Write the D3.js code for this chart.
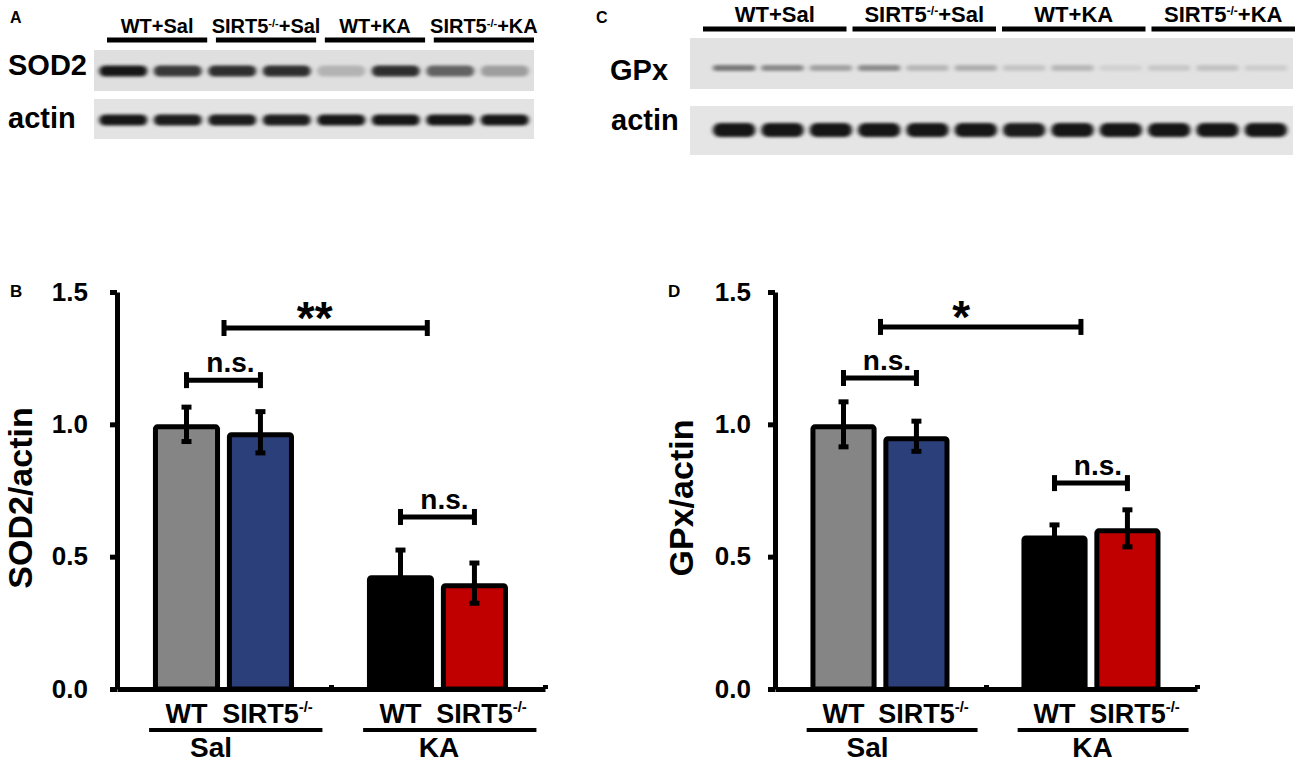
<!DOCTYPE html>
<html><head><meta charset="utf-8">
<script src="https://cdn.jsdelivr.net/npm/d3@7"></script>
<style>
body{margin:0;background:#fff}
svg{display:block}
text{font-family:"Liberation Sans",Arial,Helvetica,sans-serif;font-weight:bold;fill:#000}
</style>
</head><body>
<svg id="c" width="1300" height="763"></svg>
<script>
// ---------------- data ----------------
const groups = ["Sal", "KA"];
const genotypes = ["WT", "SIRT5"];
const barKeys = ["Sal-WT", "Sal-SIRT5", "KA-WT", "KA-SIRT5"];
const barColors = ["#858585", "#2b3f7a", "#000000", "#c00000"];

const sodMeans  = [1.00, 0.97, 0.43, 0.40];
const sodErrors = [0.065, 0.078, 0.095, 0.076];
const gpxMeans  = [1.00, 0.955, 0.58, 0.607];
const gpxErrors = [0.085, 0.057, 0.04, 0.07];

const yTicks = [0, 0.5, 1.0, 1.5];

// significance brackets: endpoints are bar indices or group names, v = height in data units
const sodBrackets = [
  {a: 0, b: 1, v: 1.167, label: "n.s."},
  {a: 2, b: 3, v: 0.65, label: "n.s."},
  {a: "Sal", b: "KA", v: 1.364, label: "**"}
];
const gpxBrackets = [
  {a: 0, b: 1, v: 1.175, label: "n.s."},
  {a: 2, b: 3, v: 0.778, label: "n.s."},
  {a: "Sal", b: "KA", v: 1.368, label: "*"}
];

// western blot lanes (relative band darkness 0..1)
const blotGroupsA = ["WT+Sal", "SIRT5-/-+Sal", "WT+KA", "SIRT5-/-+KA"];
const blotGroupsC = ["WT+Sal", "SIRT5-/-+Sal", "WT+KA", "SIRT5-/-+KA"];
const sod2Bands   = [0.95, 0.80, 0.85, 0.85, 0.22, 0.85, 0.60, 0.32];
const actinBandsA = [0.97, 0.93, 0.94, 0.93, 0.95, 0.97, 0.96, 0.95];
const gpxBands    = [0.50, 0.42, 0.30, 0.40, 0.20, 0.24, 0.14, 0.20, 0.08, 0.12, 0.15, 0.10];
const actinBandsC = [0.97, 0.97, 0.95, 0.96, 0.95, 0.96, 0.94, 0.96, 0.95, 0.96, 0.95, 0.95];

// ---------------- drawing ----------------
const svg = d3.select("#c");
const defs = svg.append("defs");
defs.append("filter").attr("id", "blur").attr("x", "-20%").attr("y", "-80%").attr("width", "140%").attr("height", "260%")
  .append("feGaussianBlur").attr("stdDeviation", "2 1.6");

const blotBg = "#e2e2e2";
const bandColor = d3.interpolateRgb(blotBg, "#0d0d0d");

function labelText(sel, str, size, supSize) {
  const parts = str.split("-/-");
  sel.append("tspan").text(parts[0]);
  if (parts.length > 1) {
    sel.append("tspan").attr("font-size", supSize).attr("baseline-shift", "super").text("-/-");
    sel.append("tspan").text(parts[1]);
  }
}

function drawBlot(cfg) {
  const g = svg.append("g");
  g.append("text").attr("x", cfg.letterX).attr("y", 23).attr("font-size", 16).text(cfg.letter);
  const seg = d3.scaleBand().domain(cfg.groups).range(cfg.segRange).paddingInner(cfg.segPad);
  cfg.groups.forEach(name => {
    g.append("line").attr("x1", seg(name)).attr("x2", seg(name) + seg.bandwidth())
      .attr("y1", cfg.segY).attr("y2", cfg.segY).attr("stroke", "#000").attr("stroke-width", 5);
    const t = g.append("text").attr("x", seg(name) + seg.bandwidth() / 2).attr("y", cfg.segY - 7)
      .attr("text-anchor", "middle").attr("font-size", cfg.segFont);
    labelText(t, name, cfg.segFont, cfg.segFont * 0.55);
  });
  const lanes = d3.scaleBand().domain(d3.range(cfg.rows[0].bands.length)).range(cfg.laneRange);
  cfg.rows.forEach(row => {
    g.append("rect").attr("x", cfg.boxX[0]).attr("width", cfg.boxX[1] - cfg.boxX[0])
      .attr("y", row.box[0]).attr("height", row.box[1] - row.box[0]).attr("fill", row.bg);
    g.append("text").attr("x", row.nameX).attr("y", row.nameY).attr("font-size", 29).text(row.name);
    g.selectAll(null).data(row.bands).join("rect")
      .attr("x", (d, i) => lanes(i) + lanes.bandwidth() * 0.06)
      .attr("width", lanes.bandwidth() * 0.88)
      .attr("y", row.cy - row.h / 2).attr("height", row.h)
      .attr("rx", row.h / 2)
      .attr("fill", d => bandColor(d))
      .attr("filter", "url(#blur)");
  });
}

drawBlot({
  letter: "A", letterX: 10,
  groups: blotGroupsA, segRange: [107, 534], segPad: 0.08, segY: 40, segFont: 20,
  boxX: [94, 534], laneRange: [96, 532],
  rows: [
    {name: "SOD2", nameX: 8, nameY: 75, box: [50, 91], bg: "#dfdfdf", cy: 71, h: 11, bands: sod2Bands},
    {name: "actin", nameX: 8, nameY: 128, box: [99, 139], bg: "#e3e3e3", cy: 120, h: 11, bands: actinBandsA}
  ]
});
drawBlot({
  letter: "C", letterX: 596,
  groups: blotGroupsC, segRange: [703, 1295], segPad: 0.04, segY: 29, segFont: 22,
  boxX: [690, 1293], laneRange: [710, 1290],
  rows: [
    {name: "GPx", nameX: 610, nameY: 80, box: [38, 89], bg: "#e2e2e2", cy: 68, h: 6, bands: gpxBands},
    {name: "actin", nameX: 611, nameY: 130, box: [106, 155], bg: "#e5e5e5", cy: 130, h: 14, bands: actinBandsC}
  ]
});

function drawBars(cfg) {
  const g = svg.append("g");
  const y = d3.scaleLinear().domain([0, 1.5]).range([689, 292]);
  const x = d3.scaleLinear().domain([-0.5, 1.5]).range([cfg.axisX, cfg.right]);
  const inner = d3.scaleBand().domain(genotypes).range([-0.332, 0.327]).paddingInner(0.093);
  const gi = name => groups.indexOf(name);
  const bars = barKeys.map((k, i) => {
    const [grp, gen] = k.split("-");
    return {grp, gen, mean: cfg.means[i], err: cfg.errs[i], color: barColors[i],
            x0: x(gi(grp) + inner(gen)), x1: x(gi(grp) + inner(gen) + inner.bandwidth())};
  });
  bars.forEach(b => b.cx = (b.x0 + b.x1) / 2);

  g.append("text").attr("x", cfg.letterX).attr("y", 297).attr("font-size", 17).text(cfg.letter);

  g.append("text").attr("transform", `translate(${cfg.titleX},498) rotate(-90)`)
    .attr("text-anchor", "middle").attr("font-size", 34).text(cfg.title);

  const sw = 5;
  g.selectAll(null).data(bars).join("rect")
    .attr("x", d => d.x0 + sw / 2).attr("width", d => d.x1 - d.x0 - sw)
    .attr("y", d => y(d.mean) + sw / 2).attr("height", d => y(0) - y(d.mean) - sw / 2)
    .attr("rx", 2)
    .attr("fill", d => d.color).attr("stroke", "#000").attr("stroke-width", sw);

  bars.forEach(b => {
    g.append("line").attr("x1", b.cx).attr("x2", b.cx).attr("y1", y(b.mean - b.err)).attr("y2", y(b.mean + b.err))
      .attr("stroke", "#000").attr("stroke-width", 5);
    [b.mean - b.err, b.mean + b.err].forEach(v => {
      g.append("line").attr("x1", b.cx - 5).attr("x2", b.cx + 5).attr("y1", y(v)).attr("y2", y(v))
        .attr("stroke", "#000").attr("stroke-width", 5);
    });
  });

  const ya = g.append("g").attr("transform", `translate(${cfg.axisX},0)`)
    .call(d3.axisLeft(y).tickValues(yTicks).tickFormat(d3.format(".1f")).tickSize(7).tickSizeOuter(0).tickPadding(cfg.tickPad));
  ya.select(".domain").attr("stroke-width", 5).attr("stroke", "#000");
  ya.selectAll(".tick line").attr("stroke-width", 5).attr("stroke", "#000");
  ya.selectAll(".tick text").attr("font-size", 26).attr("font-family", null).attr("font-weight", "bold").attr("fill", "#000");

  const xa = g.append("g").attr("transform", `translate(0,${y(0)})`)
    .call(d3.axisBottom(x).tickValues([0.5, 1.5]).tickFormat("").tickSize(-4).tickSizeOuter(0));
  xa.select(".domain").attr("stroke-width", 5).attr("stroke", "#000");
  xa.selectAll(".tick line").attr("stroke-width", 5).attr("stroke", "#000");

  bars.forEach(b => {
    if (b.gen === "WT") {
      g.append("text").attr("x", b.cx).attr("y", 723).attr("text-anchor", "middle").attr("font-size", 27).text("WT");
    } else {
      const t = g.append("text").attr("y", 723).attr("font-size", 27);
      t.append("tspan").text("SIRT5");
      t.append("tspan").attr("font-size", 15).attr("dy", -11).text("-/-");
      const w = t.node().getSubStringLength(0, 5);
      t.attr("x", b.cx - w / 2);
    }
  });
  groups.forEach((name, i) => {
    g.append("line").attr("x1", x(i - 0.35)).attr("x2", x(i + 0.46)).attr("y1", 730).attr("y2", 730)
      .attr("stroke", "#000").attr("stroke-width", 4);
    g.append("text").attr("x", x(i) + (name === "Sal" ? -13 : 1)).attr("y", 757).attr("text-anchor", "middle")
      .attr("font-size", 28).text(name);
  });

  cfg.brackets.forEach(br => {
    const isGroup = typeof br.a === "string";
    const xa1 = isGroup ? x(gi(br.a)) : bars[br.a].cx;
    const xb1 = isGroup ? x(gi(br.b) - 0.05) : bars[br.b].cx;
    const yy = y(br.v);
    g.append("line").attr("x1", xa1).attr("x2", xb1).attr("y1", yy).attr("y2", yy).attr("stroke", "#000").attr("stroke-width", 5);
    [xa1, xb1].forEach(xx => g.append("line").attr("x1", xx).attr("x2", xx).attr("y1", yy - 8).attr("y2", yy + 8)
      .attr("stroke", "#000").attr("stroke-width", 5));
    if (isGroup) {
      g.append("text").attr("x", x(gi(br.a) + 0.34)).attr("y", yy + 6).attr("font-size", 46).text(br.label);
    } else {
      g.append("text").attr("x", (xa1 + xb1) / 2 + 7).attr("y", yy - 8).attr("text-anchor", "middle")
        .attr("font-size", 28).text(br.label);
    }
  });
}

drawBars({letter: "B", letterX: 10, means: sodMeans, errs: sodErrors, title: "SOD2/actin",
  axisX: 117, right: 545, tickPad: 22, titleX: 32, brackets: sodBrackets});
drawBars({letter: "D", letterX: 668, means: gpxMeans, errs: gpxErrors, title: "GPx/actin",
  axisX: 775, right: 1197, tickPad: 17, titleX: 693, brackets: gpxBrackets});
</script>
</body></html>
